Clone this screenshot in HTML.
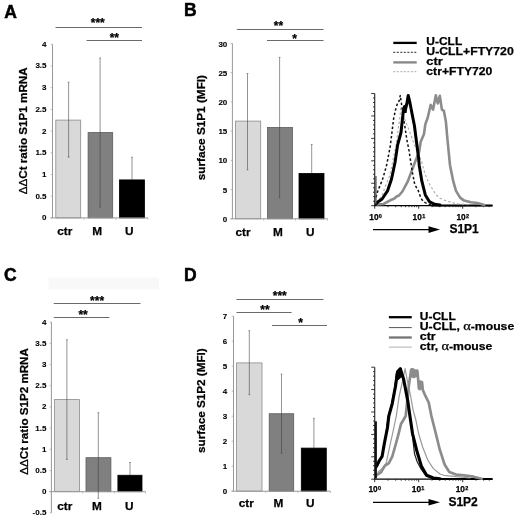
<!DOCTYPE html>
<html lang="en"><head><meta charset="utf-8"><title>Figure</title>
<style>html,body{margin:0;padding:0;background:#fff}svg{display:block}text{stroke:#000;stroke-width:.25px}</style></head><body>
<svg width="520" height="519" viewBox="0 0 520 519" font-family='"Liberation Sans", Arial, sans-serif' font-weight="bold" >
<rect width="520" height="519" fill="#fff"/>
<rect x="48.5" y="277.6" width="110.7" height="12" fill="#f8f8f8"/>
<text x="4.2" y="17.8" font-size="17.5" text-anchor="start" fill="#000" style="stroke-width:.5px">A</text>
<text transform="translate(26.6,130.8) rotate(-90)" font-size="11.7" text-anchor="middle" textLength="127" lengthAdjust="spacingAndGlyphs"><tspan font-weight="normal">ΔΔ</tspan>Ct ratio S1P1 mRNA</text>
<rect x="55.8" y="120.10" width="24.90" height="97.80" fill="#d9d9d9" stroke="#8c8c8c" stroke-width="0.8"/>
<rect x="88.1" y="132.60" width="24.60" height="85.30" fill="#808080" stroke="#5a5a5a" stroke-width="0.8"/>
<rect x="119.4" y="179.90" width="25.10" height="38.00" fill="#000" stroke="#000" stroke-width="0.8"/>
<line x1="52.5" y1="44.3" x2="52.5" y2="217.9" stroke="#989898" stroke-width="1" />
<line x1="50.5" y1="217.9" x2="147.9" y2="217.9" stroke="#989898" stroke-width="1" />
<line x1="50.7" y1="217.9" x2="52.5" y2="217.9" stroke="#aaa" stroke-width="0.8" />
<text x="46.5" y="220.3" font-size="8" text-anchor="end" fill="#000" style="stroke-width:.1px">0</text>
<line x1="50.7" y1="196.2" x2="52.5" y2="196.2" stroke="#aaa" stroke-width="0.8" />
<text x="46.5" y="198.6" font-size="8" text-anchor="end" fill="#000" style="stroke-width:.1px">0.5</text>
<line x1="50.7" y1="174.5" x2="52.5" y2="174.5" stroke="#aaa" stroke-width="0.8" />
<text x="46.5" y="176.9" font-size="8" text-anchor="end" fill="#000" style="stroke-width:.1px">1</text>
<line x1="50.7" y1="152.8" x2="52.5" y2="152.8" stroke="#aaa" stroke-width="0.8" />
<text x="46.5" y="155.2" font-size="8" text-anchor="end" fill="#000" style="stroke-width:.1px">1.5</text>
<line x1="50.7" y1="131.1" x2="52.5" y2="131.1" stroke="#aaa" stroke-width="0.8" />
<text x="46.5" y="133.5" font-size="8" text-anchor="end" fill="#000" style="stroke-width:.1px">2</text>
<line x1="50.7" y1="109.4" x2="52.5" y2="109.4" stroke="#aaa" stroke-width="0.8" />
<text x="46.5" y="111.8" font-size="8" text-anchor="end" fill="#000" style="stroke-width:.1px">2.5</text>
<line x1="50.7" y1="87.7" x2="52.5" y2="87.7" stroke="#aaa" stroke-width="0.8" />
<text x="46.5" y="90.1" font-size="8" text-anchor="end" fill="#000" style="stroke-width:.1px">3</text>
<line x1="50.7" y1="66" x2="52.5" y2="66" stroke="#aaa" stroke-width="0.8" />
<text x="46.5" y="68.4" font-size="8" text-anchor="end" fill="#000" style="stroke-width:.1px">3.5</text>
<line x1="50.7" y1="44.3" x2="52.5" y2="44.3" stroke="#aaa" stroke-width="0.8" />
<text x="46.5" y="46.7" font-size="8" text-anchor="end" fill="#000" style="stroke-width:.1px">4</text>
<line x1="83.9" y1="217.9" x2="83.9" y2="219.7" stroke="#aaa" stroke-width="0.8" />
<line x1="115.8" y1="217.9" x2="115.8" y2="219.7" stroke="#aaa" stroke-width="0.8" />
<line x1="147.9" y1="217.9" x2="147.9" y2="219.7" stroke="#aaa" stroke-width="0.8" />
<line x1="68.6" y1="82.2" x2="68.6" y2="157.1" stroke="#3a3a3a" stroke-width="0.55" />
<line x1="67.7" y1="82.2" x2="69.5" y2="82.2" stroke="#3a3a3a" stroke-width="0.5" />
<line x1="67.7" y1="157.1" x2="69.5" y2="157.1" stroke="#3a3a3a" stroke-width="0.5" />
<line x1="100.1" y1="58" x2="100.1" y2="207" stroke="#3a3a3a" stroke-width="0.55" />
<line x1="99.2" y1="58" x2="101" y2="58" stroke="#3a3a3a" stroke-width="0.5" />
<line x1="99.2" y1="207" x2="101" y2="207" stroke="#3a3a3a" stroke-width="0.5" />
<line x1="132" y1="157.2" x2="132" y2="179.9" stroke="#3a3a3a" stroke-width="0.55" />
<line x1="131.1" y1="157.2" x2="132.9" y2="157.2" stroke="#3a3a3a" stroke-width="0.5" />
<text x="57.3" y="234.8" font-size="11.8" text-anchor="start" fill="#000" >ctr</text>
<text x="92.3" y="234.8" font-size="11.8" text-anchor="start" fill="#000" >M</text>
<text x="125" y="234.8" font-size="11.8" text-anchor="start" fill="#000" >U</text>
<line x1="55.5" y1="27.5" x2="142" y2="27.5" stroke="#6a6a6a" stroke-width="1" />
<text x="97.8" y="27.1" font-size="12" text-anchor="middle" fill="#000" stroke="#000" stroke-width="0.35">***</text>
<line x1="86.5" y1="40.5" x2="142" y2="40.5" stroke="#6a6a6a" stroke-width="1" />
<text x="114.3" y="41.8" font-size="12" text-anchor="middle" fill="#000" stroke="#000" stroke-width="0.35">**</text>
<text x="184" y="15.9" font-size="17.5" text-anchor="start" fill="#000" style="stroke-width:.5px">B</text>
<text transform="translate(205.1,127.6) rotate(-90)" font-size="11.7" text-anchor="middle" textLength="105.2" lengthAdjust="spacingAndGlyphs">surface S1P1 (MFI)</text>
<rect x="235.4" y="121.10" width="25.30" height="97.70" fill="#d9d9d9" stroke="#8c8c8c" stroke-width="0.8"/>
<rect x="267.5" y="127.50" width="24.90" height="91.30" fill="#808080" stroke="#5a5a5a" stroke-width="0.8"/>
<rect x="299" y="173.40" width="25.00" height="45.40" fill="#000" stroke="#000" stroke-width="0.8"/>
<line x1="232.4" y1="43.45" x2="232.4" y2="218.8" stroke="#989898" stroke-width="1" />
<line x1="230.4" y1="218.8" x2="327.6" y2="218.8" stroke="#989898" stroke-width="1" />
<line x1="230.6" y1="218.8" x2="232.4" y2="218.8" stroke="#aaa" stroke-width="0.8" />
<text x="227.3" y="221.9" font-size="8" text-anchor="end" fill="#000" style="stroke-width:.1px">0</text>
<line x1="230.6" y1="189.58" x2="232.4" y2="189.58" stroke="#aaa" stroke-width="0.8" />
<text x="227.3" y="192.68" font-size="8" text-anchor="end" fill="#000" style="stroke-width:.1px">5</text>
<line x1="230.6" y1="160.35" x2="232.4" y2="160.35" stroke="#aaa" stroke-width="0.8" />
<text x="227.3" y="163.45" font-size="8" text-anchor="end" fill="#000" style="stroke-width:.1px">10</text>
<line x1="230.6" y1="131.12" x2="232.4" y2="131.12" stroke="#aaa" stroke-width="0.8" />
<text x="227.3" y="134.22" font-size="8" text-anchor="end" fill="#000" style="stroke-width:.1px">15</text>
<line x1="230.6" y1="101.9" x2="232.4" y2="101.9" stroke="#aaa" stroke-width="0.8" />
<text x="227.3" y="105" font-size="8" text-anchor="end" fill="#000" style="stroke-width:.1px">20</text>
<line x1="230.6" y1="72.68" x2="232.4" y2="72.68" stroke="#aaa" stroke-width="0.8" />
<text x="227.3" y="75.78" font-size="8" text-anchor="end" fill="#000" style="stroke-width:.1px">25</text>
<line x1="230.6" y1="43.45" x2="232.4" y2="43.45" stroke="#aaa" stroke-width="0.8" />
<text x="227.3" y="46.55" font-size="8" text-anchor="end" fill="#000" style="stroke-width:.1px">30</text>
<line x1="263.7" y1="218.8" x2="263.7" y2="220.6" stroke="#aaa" stroke-width="0.8" />
<line x1="295.4" y1="218.8" x2="295.4" y2="220.6" stroke="#aaa" stroke-width="0.8" />
<line x1="327.6" y1="218.8" x2="327.6" y2="220.6" stroke="#aaa" stroke-width="0.8" />
<line x1="247.5" y1="73.5" x2="247.5" y2="169.8" stroke="#3a3a3a" stroke-width="0.55" />
<line x1="246.6" y1="73.5" x2="248.4" y2="73.5" stroke="#3a3a3a" stroke-width="0.5" />
<line x1="246.6" y1="169.8" x2="248.4" y2="169.8" stroke="#3a3a3a" stroke-width="0.5" />
<line x1="279.6" y1="57.4" x2="279.6" y2="197.7" stroke="#3a3a3a" stroke-width="0.55" />
<line x1="278.7" y1="57.4" x2="280.5" y2="57.4" stroke="#3a3a3a" stroke-width="0.5" />
<line x1="278.7" y1="197.7" x2="280.5" y2="197.7" stroke="#3a3a3a" stroke-width="0.5" />
<line x1="311.7" y1="144.4" x2="311.7" y2="173.4" stroke="#3a3a3a" stroke-width="0.55" />
<line x1="310.8" y1="144.4" x2="312.6" y2="144.4" stroke="#3a3a3a" stroke-width="0.5" />
<text x="235.4" y="235.8" font-size="11.8" text-anchor="start" fill="#000" >ctr</text>
<text x="273" y="235.8" font-size="11.8" text-anchor="start" fill="#000" >M</text>
<text x="306.1" y="235.8" font-size="11.8" text-anchor="start" fill="#000" >U</text>
<line x1="236.8" y1="29.5" x2="323.5" y2="29.5" stroke="#6a6a6a" stroke-width="1" />
<text x="278.5" y="29.6" font-size="12" text-anchor="middle" fill="#000" stroke="#000" stroke-width="0.35">**</text>
<line x1="267" y1="40.5" x2="323.5" y2="40.5" stroke="#6a6a6a" stroke-width="1" />
<text x="294.5" y="42.9" font-size="12" text-anchor="middle" fill="#000" stroke="#000" stroke-width="0.35">*</text>
<text x="4" y="280.8" font-size="17.5" text-anchor="start" fill="#000" style="stroke-width:.5px">C</text>
<text transform="translate(27.9,411.4) rotate(-90)" font-size="11.7" text-anchor="middle" textLength="126.6" lengthAdjust="spacingAndGlyphs"><tspan font-weight="normal">ΔΔ</tspan>Ct ratio S1P2 mRNA</text>
<rect x="54.4" y="399.60" width="25.10" height="92.10" fill="#d9d9d9" stroke="#8c8c8c" stroke-width="0.8"/>
<rect x="86" y="457.70" width="24.90" height="34.00" fill="#808080" stroke="#5a5a5a" stroke-width="0.8"/>
<rect x="117.9" y="475.25" width="24.10" height="16.45" fill="#000" stroke="#000" stroke-width="0.8"/>
<line x1="51.4" y1="322.1" x2="51.4" y2="512.9" stroke="#989898" stroke-width="1" />
<line x1="49.4" y1="491.7" x2="145.5" y2="491.7" stroke="#989898" stroke-width="1" />
<line x1="49.6" y1="512.9" x2="51.4" y2="512.9" stroke="#aaa" stroke-width="0.8" />
<text x="46.4" y="515.3" font-size="8" text-anchor="end" fill="#000" style="stroke-width:.1px">-0.5</text>
<line x1="49.6" y1="491.7" x2="51.4" y2="491.7" stroke="#aaa" stroke-width="0.8" />
<text x="46.4" y="494.1" font-size="8" text-anchor="end" fill="#000" style="stroke-width:.1px">0</text>
<line x1="49.6" y1="470.5" x2="51.4" y2="470.5" stroke="#aaa" stroke-width="0.8" />
<text x="46.4" y="472.9" font-size="8" text-anchor="end" fill="#000" style="stroke-width:.1px">0.5</text>
<line x1="49.6" y1="449.3" x2="51.4" y2="449.3" stroke="#aaa" stroke-width="0.8" />
<text x="46.4" y="451.7" font-size="8" text-anchor="end" fill="#000" style="stroke-width:.1px">1</text>
<line x1="49.6" y1="428.1" x2="51.4" y2="428.1" stroke="#aaa" stroke-width="0.8" />
<text x="46.4" y="430.5" font-size="8" text-anchor="end" fill="#000" style="stroke-width:.1px">1.5</text>
<line x1="49.6" y1="406.9" x2="51.4" y2="406.9" stroke="#aaa" stroke-width="0.8" />
<text x="46.4" y="409.3" font-size="8" text-anchor="end" fill="#000" style="stroke-width:.1px">2</text>
<line x1="49.6" y1="385.7" x2="51.4" y2="385.7" stroke="#aaa" stroke-width="0.8" />
<text x="46.4" y="388.1" font-size="8" text-anchor="end" fill="#000" style="stroke-width:.1px">2.5</text>
<line x1="49.6" y1="364.5" x2="51.4" y2="364.5" stroke="#aaa" stroke-width="0.8" />
<text x="46.4" y="366.9" font-size="8" text-anchor="end" fill="#000" style="stroke-width:.1px">3</text>
<line x1="49.6" y1="343.3" x2="51.4" y2="343.3" stroke="#aaa" stroke-width="0.8" />
<text x="46.4" y="345.7" font-size="8" text-anchor="end" fill="#000" style="stroke-width:.1px">3.5</text>
<line x1="49.6" y1="322.1" x2="51.4" y2="322.1" stroke="#aaa" stroke-width="0.8" />
<text x="46.4" y="324.5" font-size="8" text-anchor="end" fill="#000" style="stroke-width:.1px">4</text>
<line x1="82.7" y1="491.7" x2="82.7" y2="493.5" stroke="#aaa" stroke-width="0.8" />
<line x1="114.4" y1="491.7" x2="114.4" y2="493.5" stroke="#aaa" stroke-width="0.8" />
<line x1="145.5" y1="491.7" x2="145.5" y2="493.5" stroke="#aaa" stroke-width="0.8" />
<line x1="66.9" y1="339.75" x2="66.9" y2="459.4" stroke="#3a3a3a" stroke-width="0.55" />
<line x1="66" y1="339.75" x2="67.8" y2="339.75" stroke="#3a3a3a" stroke-width="0.5" />
<line x1="66" y1="459.4" x2="67.8" y2="459.4" stroke="#3a3a3a" stroke-width="0.5" />
<line x1="98.3" y1="412.7" x2="98.3" y2="498.3" stroke="#3a3a3a" stroke-width="0.55" />
<line x1="97.4" y1="412.7" x2="99.2" y2="412.7" stroke="#3a3a3a" stroke-width="0.5" />
<line x1="97.4" y1="498.3" x2="99.2" y2="498.3" stroke="#3a3a3a" stroke-width="0.5" />
<line x1="130" y1="462.5" x2="130" y2="475.25" stroke="#3a3a3a" stroke-width="0.55" />
<line x1="129.1" y1="462.5" x2="130.9" y2="462.5" stroke="#3a3a3a" stroke-width="0.5" />
<text x="57.3" y="510" font-size="11.8" text-anchor="start" fill="#000" >ctr</text>
<text x="92.1" y="510" font-size="11.8" text-anchor="start" fill="#000" >M</text>
<text x="125" y="510" font-size="11.8" text-anchor="start" fill="#000" >U</text>
<line x1="53.75" y1="303.5" x2="140.5" y2="303.5" stroke="#6a6a6a" stroke-width="1" />
<text x="97.1" y="304.6" font-size="12" text-anchor="middle" fill="#000" stroke="#000" stroke-width="0.35">***</text>
<line x1="53.75" y1="317.5" x2="109.4" y2="317.5" stroke="#6a6a6a" stroke-width="1" />
<text x="83.1" y="319.2" font-size="12" text-anchor="middle" fill="#000" stroke="#000" stroke-width="0.35">**</text>
<text x="184" y="280.7" font-size="17.5" text-anchor="start" fill="#000" style="stroke-width:.5px">D</text>
<text transform="translate(204.6,400.6) rotate(-90)" font-size="11.7" text-anchor="middle" textLength="104.7" lengthAdjust="spacingAndGlyphs">surface S1P2 (MFI)</text>
<rect x="236.6" y="362.90" width="25.40" height="128.30" fill="#d9d9d9" stroke="#8c8c8c" stroke-width="0.8"/>
<rect x="269.2" y="413.75" width="24.50" height="77.45" fill="#808080" stroke="#5a5a5a" stroke-width="0.8"/>
<rect x="301.3" y="448.10" width="25.00" height="43.10" fill="#000" stroke="#000" stroke-width="0.8"/>
<line x1="233.5" y1="316.2" x2="233.5" y2="491.2" stroke="#989898" stroke-width="1" />
<line x1="231.5" y1="491.2" x2="330.4" y2="491.2" stroke="#989898" stroke-width="1" />
<line x1="231.7" y1="491.2" x2="233.5" y2="491.2" stroke="#aaa" stroke-width="0.8" />
<text x="227.3" y="493.6" font-size="8" text-anchor="end" fill="#000" style="stroke-width:.1px">0</text>
<line x1="231.7" y1="466.2" x2="233.5" y2="466.2" stroke="#aaa" stroke-width="0.8" />
<text x="227.3" y="468.6" font-size="8" text-anchor="end" fill="#000" style="stroke-width:.1px">1</text>
<line x1="231.7" y1="441.2" x2="233.5" y2="441.2" stroke="#aaa" stroke-width="0.8" />
<text x="227.3" y="443.6" font-size="8" text-anchor="end" fill="#000" style="stroke-width:.1px">2</text>
<line x1="231.7" y1="416.2" x2="233.5" y2="416.2" stroke="#aaa" stroke-width="0.8" />
<text x="227.3" y="418.6" font-size="8" text-anchor="end" fill="#000" style="stroke-width:.1px">3</text>
<line x1="231.7" y1="391.2" x2="233.5" y2="391.2" stroke="#aaa" stroke-width="0.8" />
<text x="227.3" y="393.6" font-size="8" text-anchor="end" fill="#000" style="stroke-width:.1px">4</text>
<line x1="231.7" y1="366.2" x2="233.5" y2="366.2" stroke="#aaa" stroke-width="0.8" />
<text x="227.3" y="368.6" font-size="8" text-anchor="end" fill="#000" style="stroke-width:.1px">5</text>
<line x1="231.7" y1="341.2" x2="233.5" y2="341.2" stroke="#aaa" stroke-width="0.8" />
<text x="227.3" y="343.6" font-size="8" text-anchor="end" fill="#000" style="stroke-width:.1px">6</text>
<line x1="231.7" y1="316.2" x2="233.5" y2="316.2" stroke="#aaa" stroke-width="0.8" />
<text x="227.3" y="318.6" font-size="8" text-anchor="end" fill="#000" style="stroke-width:.1px">7</text>
<line x1="265.8" y1="491.2" x2="265.8" y2="493" stroke="#aaa" stroke-width="0.8" />
<line x1="297.9" y1="491.2" x2="297.9" y2="493" stroke="#aaa" stroke-width="0.8" />
<line x1="330.4" y1="491.2" x2="330.4" y2="493" stroke="#aaa" stroke-width="0.8" />
<line x1="249.3" y1="330.7" x2="249.3" y2="394.6" stroke="#3a3a3a" stroke-width="0.55" />
<line x1="248.4" y1="330.7" x2="250.2" y2="330.7" stroke="#3a3a3a" stroke-width="0.5" />
<line x1="248.4" y1="394.6" x2="250.2" y2="394.6" stroke="#3a3a3a" stroke-width="0.5" />
<line x1="281.5" y1="374.1" x2="281.5" y2="453.2" stroke="#3a3a3a" stroke-width="0.55" />
<line x1="280.6" y1="374.1" x2="282.4" y2="374.1" stroke="#3a3a3a" stroke-width="0.5" />
<line x1="280.6" y1="453.2" x2="282.4" y2="453.2" stroke="#3a3a3a" stroke-width="0.5" />
<line x1="313.9" y1="418.3" x2="313.9" y2="448.1" stroke="#3a3a3a" stroke-width="0.55" />
<line x1="313" y1="418.3" x2="314.8" y2="418.3" stroke="#3a3a3a" stroke-width="0.5" />
<text x="238.8" y="507" font-size="11.8" text-anchor="start" fill="#000" >ctr</text>
<text x="273.5" y="507" font-size="11.8" text-anchor="start" fill="#000" >M</text>
<text x="306" y="507" font-size="11.8" text-anchor="start" fill="#000" >U</text>
<line x1="236.5" y1="299.5" x2="323.4" y2="299.5" stroke="#6a6a6a" stroke-width="1" />
<text x="279.8" y="300.25" font-size="12" text-anchor="middle" fill="#000" stroke="#000" stroke-width="0.35">***</text>
<line x1="236.5" y1="312.5" x2="291.6" y2="312.5" stroke="#6a6a6a" stroke-width="1" />
<text x="265" y="313.8" font-size="12" text-anchor="middle" fill="#000" stroke="#000" stroke-width="0.35">**</text>
<line x1="272" y1="325.5" x2="327" y2="325.5" stroke="#6a6a6a" stroke-width="1" />
<text x="300.5" y="326.7" font-size="12" text-anchor="middle" fill="#000" stroke="#000" stroke-width="0.35">*</text>
<line x1="393.3" y1="42.9" x2="416.7" y2="42.9" stroke="#000" stroke-width="2.3" />
<text x="426.3" y="44.5" font-size="11" text-anchor="start" fill="#000" textLength="35.9" lengthAdjust="spacingAndGlyphs">U-CLL</text>
<line x1="393.3" y1="52.3" x2="416.7" y2="52.3" stroke="#222" stroke-width="1.0" stroke-dasharray="2 1.5"/>
<text x="426.3" y="54.6" font-size="11" text-anchor="start" fill="#000" textLength="87.4" lengthAdjust="spacingAndGlyphs">U-CLL+FTY720</text>
<line x1="393.3" y1="62.4" x2="416.7" y2="62.4" stroke="#858585" stroke-width="2.3" />
<text x="426.3" y="65.2" font-size="11" text-anchor="start" fill="#000" textLength="16.5" lengthAdjust="spacingAndGlyphs">ctr</text>
<line x1="393.3" y1="71.7" x2="416.7" y2="71.7" stroke="#aaa" stroke-width="1.0" stroke-dasharray="2 1.5"/>
<text x="426.3" y="74.9" font-size="11" text-anchor="start" fill="#000" textLength="66.1" lengthAdjust="spacingAndGlyphs">ctr+FTY720</text>
<line x1="388.9" y1="317.2" x2="411.75" y2="317.2" stroke="#000" stroke-width="2.3" />
<text x="419.8" y="319.8" font-size="11" text-anchor="start" fill="#000" textLength="35.9" lengthAdjust="spacingAndGlyphs">U-CLL</text>
<line x1="388.9" y1="327.6" x2="411.75" y2="327.6" stroke="#555" stroke-width="1.0" />
<text x="419.8" y="329.7" font-size="11" text-anchor="start" fill="#000" textLength="94.4" lengthAdjust="spacingAndGlyphs">U-CLL, <tspan font-weight="normal" font-size="13" font-family="Liberation Serif, serif">α</tspan>-mouse</text>
<line x1="388.9" y1="337.5" x2="411.75" y2="337.5" stroke="#757575" stroke-width="2.3" />
<text x="419.8" y="339.5" font-size="11" text-anchor="start" fill="#000" textLength="15.9" lengthAdjust="spacingAndGlyphs">ctr</text>
<line x1="388.9" y1="347.1" x2="411.75" y2="347.1" stroke="#b0b0b0" stroke-width="1.0" />
<text x="419.8" y="349.7" font-size="11" text-anchor="start" fill="#000" textLength="72.6" lengthAdjust="spacingAndGlyphs">ctr, <tspan font-weight="normal" font-size="13" font-family="Liberation Serif, serif">α</tspan>-mouse</text>
<line x1="374.7" y1="93.5" x2="374.7" y2="205.7" stroke="#333" stroke-width="1.2" />
<line x1="371.2" y1="93.5" x2="374.7" y2="93.5" stroke="#222" stroke-width="0.9" />
<line x1="373" y1="97.99" x2="374.7" y2="97.99" stroke="#222" stroke-width="0.9" />
<line x1="373" y1="102.48" x2="374.7" y2="102.48" stroke="#222" stroke-width="0.9" />
<line x1="373" y1="106.96" x2="374.7" y2="106.96" stroke="#222" stroke-width="0.9" />
<line x1="373" y1="111.45" x2="374.7" y2="111.45" stroke="#222" stroke-width="0.9" />
<line x1="371.2" y1="115.94" x2="374.7" y2="115.94" stroke="#222" stroke-width="0.9" />
<line x1="373" y1="120.43" x2="374.7" y2="120.43" stroke="#222" stroke-width="0.9" />
<line x1="373" y1="124.92" x2="374.7" y2="124.92" stroke="#222" stroke-width="0.9" />
<line x1="373" y1="129.4" x2="374.7" y2="129.4" stroke="#222" stroke-width="0.9" />
<line x1="373" y1="133.89" x2="374.7" y2="133.89" stroke="#222" stroke-width="0.9" />
<line x1="371.2" y1="138.38" x2="374.7" y2="138.38" stroke="#222" stroke-width="0.9" />
<line x1="373" y1="142.87" x2="374.7" y2="142.87" stroke="#222" stroke-width="0.9" />
<line x1="373" y1="147.36" x2="374.7" y2="147.36" stroke="#222" stroke-width="0.9" />
<line x1="373" y1="151.84" x2="374.7" y2="151.84" stroke="#222" stroke-width="0.9" />
<line x1="373" y1="156.33" x2="374.7" y2="156.33" stroke="#222" stroke-width="0.9" />
<line x1="371.2" y1="160.82" x2="374.7" y2="160.82" stroke="#222" stroke-width="0.9" />
<line x1="373" y1="165.31" x2="374.7" y2="165.31" stroke="#222" stroke-width="0.9" />
<line x1="373" y1="169.8" x2="374.7" y2="169.8" stroke="#222" stroke-width="0.9" />
<line x1="373" y1="174.28" x2="374.7" y2="174.28" stroke="#222" stroke-width="0.9" />
<line x1="373" y1="178.77" x2="374.7" y2="178.77" stroke="#222" stroke-width="0.9" />
<line x1="371.2" y1="183.26" x2="374.7" y2="183.26" stroke="#222" stroke-width="0.9" />
<line x1="373" y1="187.75" x2="374.7" y2="187.75" stroke="#222" stroke-width="0.9" />
<line x1="373" y1="192.24" x2="374.7" y2="192.24" stroke="#222" stroke-width="0.9" />
<line x1="373" y1="196.72" x2="374.7" y2="196.72" stroke="#222" stroke-width="0.9" />
<line x1="373" y1="201.21" x2="374.7" y2="201.21" stroke="#222" stroke-width="0.9" />
<line x1="371.2" y1="205.7" x2="374.7" y2="205.7" stroke="#222" stroke-width="0.9" />
<line x1="374.2" y1="205.7" x2="492.5" y2="205.7" stroke="#000" stroke-width="1.3" />
<line x1="432" y1="205.5" x2="492.5" y2="205.5" stroke="#000" stroke-width="2.1" />
<line x1="374.7" y1="205.7" x2="374.7" y2="208.7" stroke="#222" stroke-width="0.9" />
<line x1="387.95" y1="205.7" x2="387.95" y2="207.2" stroke="#222" stroke-width="0.9" />
<line x1="395.69" y1="205.7" x2="395.69" y2="207.2" stroke="#222" stroke-width="0.9" />
<line x1="401.19" y1="205.7" x2="401.19" y2="207.2" stroke="#222" stroke-width="0.9" />
<line x1="405.45" y1="205.7" x2="405.45" y2="207.2" stroke="#222" stroke-width="0.9" />
<line x1="408.94" y1="205.7" x2="408.94" y2="207.2" stroke="#222" stroke-width="0.9" />
<line x1="411.88" y1="205.7" x2="411.88" y2="207.2" stroke="#222" stroke-width="0.9" />
<line x1="414.44" y1="205.7" x2="414.44" y2="207.2" stroke="#222" stroke-width="0.9" />
<line x1="416.69" y1="205.7" x2="416.69" y2="207.2" stroke="#222" stroke-width="0.9" />
<line x1="418.7" y1="205.7" x2="418.7" y2="208.7" stroke="#222" stroke-width="0.9" />
<line x1="431.95" y1="205.7" x2="431.95" y2="207.2" stroke="#222" stroke-width="0.9" />
<line x1="439.69" y1="205.7" x2="439.69" y2="207.2" stroke="#222" stroke-width="0.9" />
<line x1="445.19" y1="205.7" x2="445.19" y2="207.2" stroke="#222" stroke-width="0.9" />
<line x1="449.45" y1="205.7" x2="449.45" y2="207.2" stroke="#222" stroke-width="0.9" />
<line x1="452.94" y1="205.7" x2="452.94" y2="207.2" stroke="#222" stroke-width="0.9" />
<line x1="455.88" y1="205.7" x2="455.88" y2="207.2" stroke="#222" stroke-width="0.9" />
<line x1="458.44" y1="205.7" x2="458.44" y2="207.2" stroke="#222" stroke-width="0.9" />
<line x1="460.69" y1="205.7" x2="460.69" y2="207.2" stroke="#222" stroke-width="0.9" />
<line x1="462.7" y1="205.7" x2="462.7" y2="208.7" stroke="#222" stroke-width="0.9" />
<line x1="475.95" y1="205.7" x2="475.95" y2="207.2" stroke="#222" stroke-width="0.9" />
<line x1="483.69" y1="205.7" x2="483.69" y2="207.2" stroke="#222" stroke-width="0.9" />
<line x1="489.19" y1="205.7" x2="489.19" y2="207.2" stroke="#222" stroke-width="0.9" />
<text x="369.3" y="219.7" font-size="8.3">10<tspan font-size="5.5" dy="-2.2" dx="0.3">0</tspan></text>
<text x="412.6" y="219.7" font-size="8.3">10<tspan font-size="5.5" dy="-2.2" dx="0.3">1</tspan></text>
<text x="456.5" y="219.7" font-size="8.3">10<tspan font-size="5.5" dy="-2.2" dx="0.3">2</tspan></text>
<line x1="373" y1="229.6" x2="432" y2="229.6" stroke="#000" stroke-width="1.15" />
<polygon points="428.5,226.29999999999998 440,229.6 428.5,232.9" fill="#000"/>
<text x="449.4" y="233.3" font-size="12" text-anchor="start" fill="#000" >S1P1</text>
<polyline points="376.5,202.5 377.8,200.9 381.8,196.2 385.9,184.7 389.3,176.6 391.5,167.5 393.7,156.0 396.3,144.7 398.0,131.0 399.7,119.0 400.8,108.0 402.5,112.0 405.0,120.0 409.0,130.0 413.0,141.0 417.0,151.0 421.7,161.6 424.0,170.8 426.9,178.9 429.8,184.7 432.0,188.2 436.1,194.9 440.0,198.3 446.6,201.0 456.0,203.7 470.0,204.8" fill="none" stroke="#a8a8a8" stroke-width="1.1" stroke-linejoin="round" stroke-linecap="butt" stroke-dasharray="2.4 2.2" />
<polyline points="377.0,204.5 383.5,204.0 390.2,200.3 394.0,198.8 397.0,196.3 399.0,195.5 402.4,191.5 407.8,181.4 411.8,170.6 415.9,159.8 419.2,151.7 420.6,142.0 424.0,134.0 425.3,124.4 427.7,117.7 430.7,104.9 433.1,109.6 435.8,95.4 437.8,103.5 439.8,95.8 441.9,109.6 443.9,110.9 445.9,121.7 447.3,137.9 449.3,158.0 450.0,165.2 453.3,181.4 456.0,190.9 460.1,197.6 464.1,200.6 470.9,202.3 477.6,203.0 484.3,205.0" fill="none" stroke="#8c8c8c" stroke-width="2.6" stroke-linejoin="round" stroke-linecap="round"  />
<polyline points="376.0,197.4 377.6,191.5 379.8,186.0 382.2,180.5 384.7,172.0 386.8,164.3 388.6,155.0 390.3,145.8 392.0,132.0 393.7,118.0 395.5,110.0 397.2,104.2 398.4,103.0 399.3,100.0 400.3,95.4 401.5,104.0 403.0,115.0 405.0,127.3 406.7,138.9 409.0,150.5 410.7,161.6 412.5,173.1 414.8,184.7 418.2,190.5 421.1,198.6 424.0,202.0 428.0,204.0 432.0,204.8" fill="none" stroke="#111" stroke-width="1.5" stroke-linejoin="round" stroke-linecap="butt" stroke-dasharray="2.5 2.2" />
<polyline points="376.2,204.0 377.4,202.3 382.1,199.0 387.5,190.9 391.6,178.7 395.0,162.5 397.6,145.0 401.0,132.5 403.2,112.0 404.4,106.9 405.6,108.5 406.8,104.0 408.2,95.4 409.6,101.0 411.9,113.0 414.4,125.5 416.5,142.0 418.6,158.0 419.2,165.2 421.9,181.4 425.3,194.9 429.3,201.6 434.7,204.3 440.0,205.0" fill="none" stroke="#000" stroke-width="3.0" stroke-linejoin="round" stroke-linecap="round"  />
<polygon points="403.2,113 403.8,105.5 406,104 407.2,108 406.6,113" fill="#000"/>
<line x1="375.9" y1="176" x2="375.9" y2="204.5" stroke="#555" stroke-width="1.4" />
<line x1="374.7" y1="367.2" x2="374.7" y2="479.2" stroke="#333" stroke-width="1.2" />
<line x1="371.2" y1="367.2" x2="374.7" y2="367.2" stroke="#222" stroke-width="0.9" />
<line x1="373" y1="371.68" x2="374.7" y2="371.68" stroke="#222" stroke-width="0.9" />
<line x1="373" y1="376.16" x2="374.7" y2="376.16" stroke="#222" stroke-width="0.9" />
<line x1="373" y1="380.64" x2="374.7" y2="380.64" stroke="#222" stroke-width="0.9" />
<line x1="373" y1="385.12" x2="374.7" y2="385.12" stroke="#222" stroke-width="0.9" />
<line x1="371.2" y1="389.6" x2="374.7" y2="389.6" stroke="#222" stroke-width="0.9" />
<line x1="373" y1="394.08" x2="374.7" y2="394.08" stroke="#222" stroke-width="0.9" />
<line x1="373" y1="398.56" x2="374.7" y2="398.56" stroke="#222" stroke-width="0.9" />
<line x1="373" y1="403.04" x2="374.7" y2="403.04" stroke="#222" stroke-width="0.9" />
<line x1="373" y1="407.52" x2="374.7" y2="407.52" stroke="#222" stroke-width="0.9" />
<line x1="371.2" y1="412" x2="374.7" y2="412" stroke="#222" stroke-width="0.9" />
<line x1="373" y1="416.48" x2="374.7" y2="416.48" stroke="#222" stroke-width="0.9" />
<line x1="373" y1="420.96" x2="374.7" y2="420.96" stroke="#222" stroke-width="0.9" />
<line x1="373" y1="425.44" x2="374.7" y2="425.44" stroke="#222" stroke-width="0.9" />
<line x1="373" y1="429.92" x2="374.7" y2="429.92" stroke="#222" stroke-width="0.9" />
<line x1="371.2" y1="434.4" x2="374.7" y2="434.4" stroke="#222" stroke-width="0.9" />
<line x1="373" y1="438.88" x2="374.7" y2="438.88" stroke="#222" stroke-width="0.9" />
<line x1="373" y1="443.36" x2="374.7" y2="443.36" stroke="#222" stroke-width="0.9" />
<line x1="373" y1="447.84" x2="374.7" y2="447.84" stroke="#222" stroke-width="0.9" />
<line x1="373" y1="452.32" x2="374.7" y2="452.32" stroke="#222" stroke-width="0.9" />
<line x1="371.2" y1="456.8" x2="374.7" y2="456.8" stroke="#222" stroke-width="0.9" />
<line x1="373" y1="461.28" x2="374.7" y2="461.28" stroke="#222" stroke-width="0.9" />
<line x1="373" y1="465.76" x2="374.7" y2="465.76" stroke="#222" stroke-width="0.9" />
<line x1="373" y1="470.24" x2="374.7" y2="470.24" stroke="#222" stroke-width="0.9" />
<line x1="373" y1="474.72" x2="374.7" y2="474.72" stroke="#222" stroke-width="0.9" />
<line x1="371.2" y1="479.2" x2="374.7" y2="479.2" stroke="#222" stroke-width="0.9" />
<line x1="374.2" y1="479.2" x2="492.5" y2="479.2" stroke="#000" stroke-width="1.3" />
<line x1="432" y1="479" x2="492.5" y2="479" stroke="#000" stroke-width="2.1" />
<line x1="374.7" y1="479.2" x2="374.7" y2="482.2" stroke="#222" stroke-width="0.9" />
<line x1="387.95" y1="479.2" x2="387.95" y2="480.7" stroke="#222" stroke-width="0.9" />
<line x1="395.69" y1="479.2" x2="395.69" y2="480.7" stroke="#222" stroke-width="0.9" />
<line x1="401.19" y1="479.2" x2="401.19" y2="480.7" stroke="#222" stroke-width="0.9" />
<line x1="405.45" y1="479.2" x2="405.45" y2="480.7" stroke="#222" stroke-width="0.9" />
<line x1="408.94" y1="479.2" x2="408.94" y2="480.7" stroke="#222" stroke-width="0.9" />
<line x1="411.88" y1="479.2" x2="411.88" y2="480.7" stroke="#222" stroke-width="0.9" />
<line x1="414.44" y1="479.2" x2="414.44" y2="480.7" stroke="#222" stroke-width="0.9" />
<line x1="416.69" y1="479.2" x2="416.69" y2="480.7" stroke="#222" stroke-width="0.9" />
<line x1="418.7" y1="479.2" x2="418.7" y2="482.2" stroke="#222" stroke-width="0.9" />
<line x1="431.95" y1="479.2" x2="431.95" y2="480.7" stroke="#222" stroke-width="0.9" />
<line x1="439.69" y1="479.2" x2="439.69" y2="480.7" stroke="#222" stroke-width="0.9" />
<line x1="445.19" y1="479.2" x2="445.19" y2="480.7" stroke="#222" stroke-width="0.9" />
<line x1="449.45" y1="479.2" x2="449.45" y2="480.7" stroke="#222" stroke-width="0.9" />
<line x1="452.94" y1="479.2" x2="452.94" y2="480.7" stroke="#222" stroke-width="0.9" />
<line x1="455.88" y1="479.2" x2="455.88" y2="480.7" stroke="#222" stroke-width="0.9" />
<line x1="458.44" y1="479.2" x2="458.44" y2="480.7" stroke="#222" stroke-width="0.9" />
<line x1="460.69" y1="479.2" x2="460.69" y2="480.7" stroke="#222" stroke-width="0.9" />
<line x1="462.7" y1="479.2" x2="462.7" y2="482.2" stroke="#222" stroke-width="0.9" />
<line x1="475.95" y1="479.2" x2="475.95" y2="480.7" stroke="#222" stroke-width="0.9" />
<line x1="483.69" y1="479.2" x2="483.69" y2="480.7" stroke="#222" stroke-width="0.9" />
<line x1="489.19" y1="479.2" x2="489.19" y2="480.7" stroke="#222" stroke-width="0.9" />
<text x="368.5" y="492.0" font-size="8.3">10<tspan font-size="5.5" dy="-2.2" dx="0.3">0</tspan></text>
<text x="411.8" y="492.0" font-size="8.3">10<tspan font-size="5.5" dy="-2.2" dx="0.3">1</tspan></text>
<text x="455.7" y="492.0" font-size="8.3">10<tspan font-size="5.5" dy="-2.2" dx="0.3">2</tspan></text>
<line x1="373" y1="502.3" x2="432" y2="502.3" stroke="#000" stroke-width="1.15" />
<polygon points="428.5,499.0 440,502.3 428.5,505.6" fill="#000"/>
<text x="448.4" y="505.8" font-size="12" text-anchor="start" fill="#000" >S1P2</text>
<polyline points="378.1,472.0 382.1,468.6 386.2,463.2 389.6,447.0 392.9,432.1 396.3,416.0 399.0,397.0 401.7,385.0 405.1,368.7 407.1,379.5 410.5,395.7 413.2,410.6 415.9,420.0 418.6,433.5 422.6,447.0 428.0,460.5 433.4,468.6 440.0,474.0 443.9,475.3 456.0,476.7 470.0,478.0" fill="none" stroke="#9a9a9a" stroke-width="1.2" stroke-linejoin="round" stroke-linecap="round"  />
<polyline points="377.0,475.0 378.1,474.0 380.8,472.6 384.8,465.9 388.9,463.2 392.3,456.4 395.0,447.0 398.3,434.8 401.0,424.0 405.7,416.0 407.1,402.5 409.1,383.6 411.2,370.0 411.9,369.2 412.6,376.5 413.3,369.6 414.2,377.0 415.0,370.5 415.8,376.0 416.6,370.5 417.4,371.0 418.2,380.0 418.9,388.5 419.8,389.0 420.4,381.5 421.2,388.0 422.0,382.2 422.8,390.0 425.3,395.7 428.7,402.5 431.4,416.0 435.8,433.5 439.8,449.7 444.6,464.5 449.3,472.0 456.0,474.6 464.1,475.3 473.6,476.7 481.7,478.7" fill="none" stroke="#8c8c8c" stroke-width="2.7" stroke-linejoin="round" stroke-linecap="round"  />
<polyline points="376.5,468.0 379.0,462.0 382.0,457.5 384.0,446.0 386.5,430.0 388.0,418.0 391.3,405.0 394.7,388.0 396.5,373.0 399.5,369.0 403.0,378.0 407.0,398.0 410.0,418.0 412.0,432.0 414.5,453.7 417.2,461.8 421.0,469.0 426.0,476.0 432.0,478.0" fill="none" stroke="#222" stroke-width="1.2" stroke-linejoin="round" stroke-linecap="round"  />
<polyline points="376.7,465.9 379.4,460.5 382.1,456.4 384.2,444.3 387.4,428.0 388.8,416.0 392.2,403.8 395.5,386.3 397.5,372.0 400.3,368.7 403.7,379.5 407.8,401.1 410.5,420.0 412.5,433.5 416.5,449.7 421.3,465.9 426.6,475.3 433.4,478.0 440.0,478.7" fill="none" stroke="#000" stroke-width="3.1" stroke-linejoin="round" stroke-linecap="round"  />
<polygon points="395.2,381 396.3,371 399.3,368 401.6,368 404.6,382 401.5,377 398.5,380" fill="#000"/>
<line x1="375.9" y1="421.3" x2="375.9" y2="478.5" stroke="#111" stroke-width="2" />
</svg></body></html>
